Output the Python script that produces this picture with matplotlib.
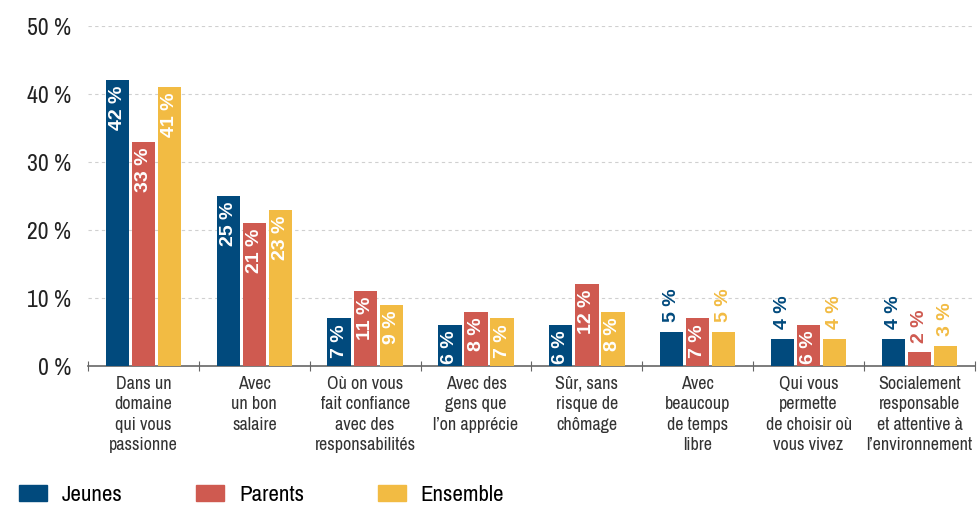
from matplotlib import pyplot as plt
from matplotlib.patches import Patch
import numpy as np

plt.rcParams['font.family'] = ['Archivo Narrow', 'Liberation Sans', 'DejaVu Sans']

categories = ['Dans un\ndomaine\nqui vous\npassionne',
              'Avec\nun bon\nsalaire',
              'Où on vous\nfait confiance\navec des\nresponsabilités',
              'Avec des\ngens que\nl’on apprécie',
              'Sûr, sans\nrisque de\nchômage',
              'Avec\nbeaucoup\nde temps\nlibre',
              'Qui vous\npermette\nde choisir où\nvous vivez',
              'Socialement\nresponsable\net attentive à\nl’environnement']
series = ['Jeunes', 'Parents', 'Ensemble']
jeunes = [42, 25, 7, 6, 6, 5, 4, 4]
parents = [33, 21, 11, 8, 12, 7, 6, 2]
ensemble = [41, 23, 9, 7, 8, 5, 4, 3]
yticks = [0, 10, 20, 30, 40, 50]

colors = ['#014a7d', '#cf5a50', '#f2bb43']

fig = plt.figure(figsize=(9.8, 5.05), dpi=100)
ax = fig.add_axes([0.0898, 0.2752, 0.905, 0.6733])

x = np.arange(len(categories)) + 0.5
width = 0.21
offsets = [-0.235, 0, 0.235]
lbl_font = dict(family=['Liberation Sans', 'DejaVu Sans'], fontsize=14, fontweight='bold')
for vals, off, col, name in zip([jeunes, parents, ensemble], offsets, colors, series):
    ax.bar(x + off, vals, width=width, color=col, label=name, zorder=3)
    for xi, v in zip(x + off, vals):
        if v >= 6:
            ax.annotate(f'{v} %', (xi, v), xytext=(0, -4), textcoords='offset points',
                        rotation=90, ha='center', va='top', color='white', zorder=4, **lbl_font)
        else:
            ax.annotate(f'{v} %', (xi, v), xytext=(0, 7), textcoords='offset points',
                        rotation=90, ha='center', va='bottom', color=col, zorder=4, **lbl_font)

ax.set_xlim(0, len(categories))
ax.set_ylim(0, 50)
ax.set_yticks(yticks)
ax.set_yticklabels([f'{t} %' for t in yticks], fontsize=17, color='#222222')
ax.tick_params(axis='y', length=0, pad=12)
ax.yaxis.grid(True, linestyle=(0, (3, 3)), color='#d0d0d0', linewidth=0.8, zorder=0)

ax.set_xticks(np.arange(len(categories) + 1))
ax.set_xticklabels([])
ax.set_xticks(x, minor=True)
ax.set_xticklabels(categories, minor=True, fontsize=13, color='#333333', linespacing=1.35)
ax.tick_params(axis='x', which='major', direction='inout', length=7, color='#666666')
ax.tick_params(axis='x', which='minor', length=0, pad=7)

for s in ['left', 'right', 'top']:
    ax.spines[s].set_visible(False)
ax.spines['bottom'].set_color('#666666')
ax.spines['bottom'].set_linewidth(1.2)

handles = [Patch(color=c) for c in colors]
fig.legend(handles, series, ncol=3, loc='center left', bbox_to_anchor=(0.0194, 0.02),
           frameon=False, fontsize=16.5, handlelength=1.22, handleheight=0.7,
           columnspacing=3.2, handletextpad=0.66, borderpad=0, borderaxespad=0)

fig.savefig('out.png', dpi=100)
